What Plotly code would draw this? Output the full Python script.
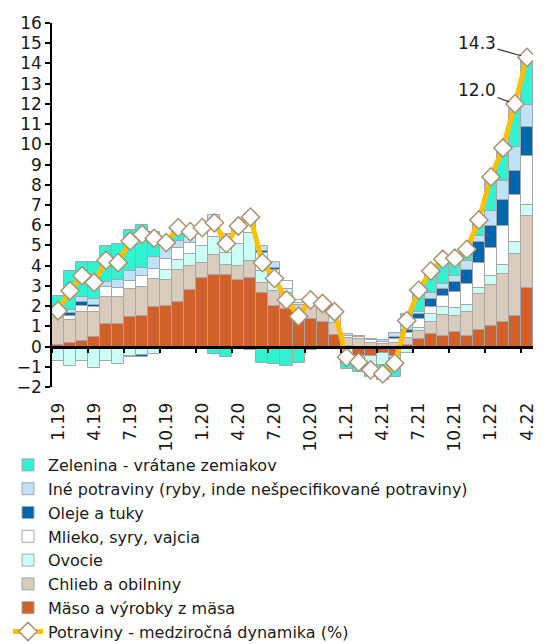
import plotly.graph_objects as go

months = ["1.19", "2.19", "3.19", "4.19", "5.19", "6.19", "7.19", "8.19", "9.19", "10.19", "11.19", "12.19",
          "1.20", "2.20", "3.20", "4.20", "5.20", "6.20", "7.20", "8.20", "9.20", "10.20", "11.20", "12.20",
          "1.21", "2.21", "3.21", "4.21", "5.21", "6.21", "7.21", "8.21", "9.21", "10.21", "11.21", "12.21",
          "1.22", "2.22", "3.22", "4.22"]

maso = [0.10, 0.20, 0.28, 0.45, 1.12, 1.12, 1.45, 1.53, 1.94, 2.00, 2.20, 2.80,
        3.40, 3.55, 3.55, 3.30, 3.40, 2.65, 2.00, 1.85, 1.45, 1.35, 1.20, 0.55,
        0.05, -0.45, -0.45, -0.30, -0.45, 0.10, 0.38, 0.62, 0.54, 0.70, 0.54, 0.80,
        1.03, 1.20, 1.53, 2.89]
chlieb = [1.30, 1.10, 1.41, 1.24, 1.34, 1.34, 1.40, 1.42, 1.39, 1.30, 1.60, 1.20,
          0.75, 1.00, 0.50, 0.70, 0.85, 0.50, 0.75, 0.80, 0.60, 0.80, 0.70, 0.60,
          0.35, 0.35, 0.20, 0.15, 0.20, 0.30, 0.41, 0.58, 1.00, 0.82, 1.15, 1.80,
          2.00, 2.40, 3.03, 3.56]
ovocie = [-0.70, -0.95, -0.70, -1.05, -0.70, -0.85, -0.45, -0.40, -0.35, 0.50, 0.50, 0.60,
          0.80, 0.85, 0.60, 1.05, 1.35, 0.60, 0.40, 0.20, 0.10, 0.10, 0.10, 0.30,
          -0.35, -0.30, -0.50, -0.60, -0.10, -0.30, 0.15, 0.40, 0.43, 0.38, 0.38, 0.30,
          0.45, 0.45, 0.63, 0.55]
mlieko = [0.10, 0.20, 0.31, 0.25, 0.49, 0.44, 0.40, 0.55, 0.50, 0.55, 0.55, 0.50,
          0.60, 0.70, 0.70, 0.60, 0.70, 0.90, 0.65, 0.40, 0.15, 0.15, 0.15, 0.30,
          0.10, 0.10, 0.10, 0.10, 0.15, 0.25, 0.40, 0.37, 0.55, 0.78, 1.00, 1.25,
          1.40, 1.90, 2.30, 2.40]
oleje = [0.00, 0.15, 0.20, 0.13, 0.00, 0.00, -0.08, -0.10, 0.00, -0.10, -0.10, -0.10,
         -0.10, 0.10, -0.05, 0.00, 0.00, 0.10, 0.10, 0.00, 0.00, 0.00, 0.00, 0.00,
         0.00, 0.00, 0.00, 0.00, 0.10, 0.15, 0.25, 0.40, 0.35, 0.52, 0.72, 1.00,
         1.10, 1.30, 1.20, 1.45]
ine = [0.10, 0.15, 0.26, 0.28, 0.22, 0.40, 0.50, 0.38, 0.60, 0.60, 0.35, 0.30,
       0.20, 0.30, 0.20, 0.20, 0.20, 0.20, 0.30, 0.00, 0.00, -0.10, 0.00, 0.00,
       0.10, 0.05, 0.05, 0.05, 0.20, 0.30, 0.10, 0.30, 0.20, 0.30, 0.42, 0.30,
       0.70, 0.95, 1.20, 1.10]
zelenina = [0.90, 1.95, 1.74, 1.85, 1.80, 1.76, 2.00, 2.12, 1.25, 0.30, 0.75, 0.35,
            0.20, -0.35, -0.45, 0.10, -0.15, -0.80, -0.85, -0.95, -0.80, -0.05, 0.00, -0.05,
            -0.75, -0.50, -0.55, -0.75, -0.95, 0.50, 1.10, 1.05, 1.25, 0.85, 0.60, 0.80,
            1.70, 1.60, 2.10, 2.35]
potraviny = [1.77, 2.76, 3.50, 3.17, 4.27, 4.15, 5.22, 5.55, 5.35, 5.14, 5.88, 5.68,
             5.88, 6.12, 5.09, 5.96, 6.40, 4.15, 3.37, 2.31, 1.49, 2.31, 2.13, 1.72,
             -0.53, -0.77, -1.15, -1.35, -0.82, 1.28, 2.79, 3.74, 4.32, 4.37, 4.81, 6.26,
             8.39, 9.82, 12.0, 14.3]

x = list(range(len(months)))
tick_idx = x[::3]
tick_txt = months[::3]

FONT = "Verdana, DejaVu Sans, sans-serif"
EDGE = "#a6a6a6"

series = [
    ("Mäso a výrobky z mäsa", maso, "#D2602A", 7),
    ("Chlieb a obilniny", chlieb, "#DACCBD", 6),
    ("Ovocie", ovocie, "#CCFFF6", 5),
    ("Mlieko, syry, vajcia", mlieko, "#FFFFFF", 4),
    ("Oleje a tuky", oleje, "#0066AE", 3),
    ("Iné potraviny (ryby, inde nešpecifikované potraviny)", ine, "#BEE2F8", 2),
    ("Zelenina - vrátane zemiakov", zelenina, "#33F2D2", 1),
]

fig = go.Figure()
for name, vals, col, rank in series:
    fig.add_trace(go.Bar(x=x, y=vals, name=name, legendrank=rank,
                         marker=dict(color=col, line=dict(color=EDGE, width=1))))

fig.add_trace(go.Scatter(x=x, y=potraviny, name="Potraviny - medziročná dynamika (%)",
                         legendrank=8, mode="lines+markers",
                         line=dict(color="#FFC000", width=5),
                         marker=dict(symbol="diamond", size=14, color="white",
                                     line=dict(color="#A89272", width=1.5))))

# helper invisible trace for the zero-line axis with ticks
fig.add_trace(go.Scatter(x=[x[0]], y=[0], xaxis="x2", mode="markers",
                         marker=dict(opacity=0), showlegend=False, hoverinfo="skip"))

# page body adds an 8px offset, so the figure is 8px smaller and margins shifted
W, H = 536, 636
ml, mr, mt, mb = 44, 11, 15, 257
ymin, ymax = -2, 16
zero_pos = (0 - ymin) / (ymax - ymin)

for idx in (38, 39):
    fig.add_annotation(x=x[idx], y=potraviny[idx], text=f"{potraviny[idx]:.1f}",
                       showarrow=True, arrowhead=0, arrowwidth=1.2, arrowcolor="#333",
                       ax=-50 if idx == 39 else -38, ay=-14, standoff=6,
                       font=dict(family=FONT, size=17, color="#1a1a1a"))

fig.update_layout(
    width=W, height=H,
    margin=dict(l=ml, r=mr, t=mt, b=mb, autoexpand=False),
    paper_bgcolor="white", plot_bgcolor="white",
    barmode="relative", bargap=0,
    font=dict(family=FONT, size=17, color="#1a1a1a"),
    showlegend=True,
    legend=dict(xref="container", yref="container", x=0, xanchor="left",
                y=(H - 440) / H, yanchor="top",
                font=dict(family=FONT, size=16, color="#1a1a1a"),
                bgcolor="rgba(0,0,0,0)", tracegroupgap=0, itemwidth=30),
    xaxis=dict(range=[-0.5, len(months) - 0.5], tickmode="array", tickvals=tick_idx,
               ticktext=tick_txt, tickangle=-90, showline=False, showgrid=False,
               zeroline=False, ticks="outside", ticklen=8, tickcolor="rgba(0,0,0,0)",
               tickfont=dict(family=FONT, size=17), automargin=False),
    xaxis2=dict(overlaying="x", matches="x", anchor="free", position=zero_pos,
                range=[-0.5, len(months) - 0.5], tickmode="array",
                tickvals=[i - 0.5 for i in tick_idx], showticklabels=False,
                ticks="outside", ticklen=5, tickwidth=2, tickcolor="black",
                showline=True, linewidth=2.5, linecolor="black", showgrid=False,
                zeroline=False),
    yaxis=dict(range=[ymin, ymax], dtick=1, showline=True, linecolor="black",
               linewidth=1.5, ticks="outside", ticklen=5, tickwidth=1.5,
               tickcolor="black", showgrid=False, zeroline=False, automargin=False,
               tickfont=dict(family=FONT, size=17)),
)

fig.write_html("out.html")
